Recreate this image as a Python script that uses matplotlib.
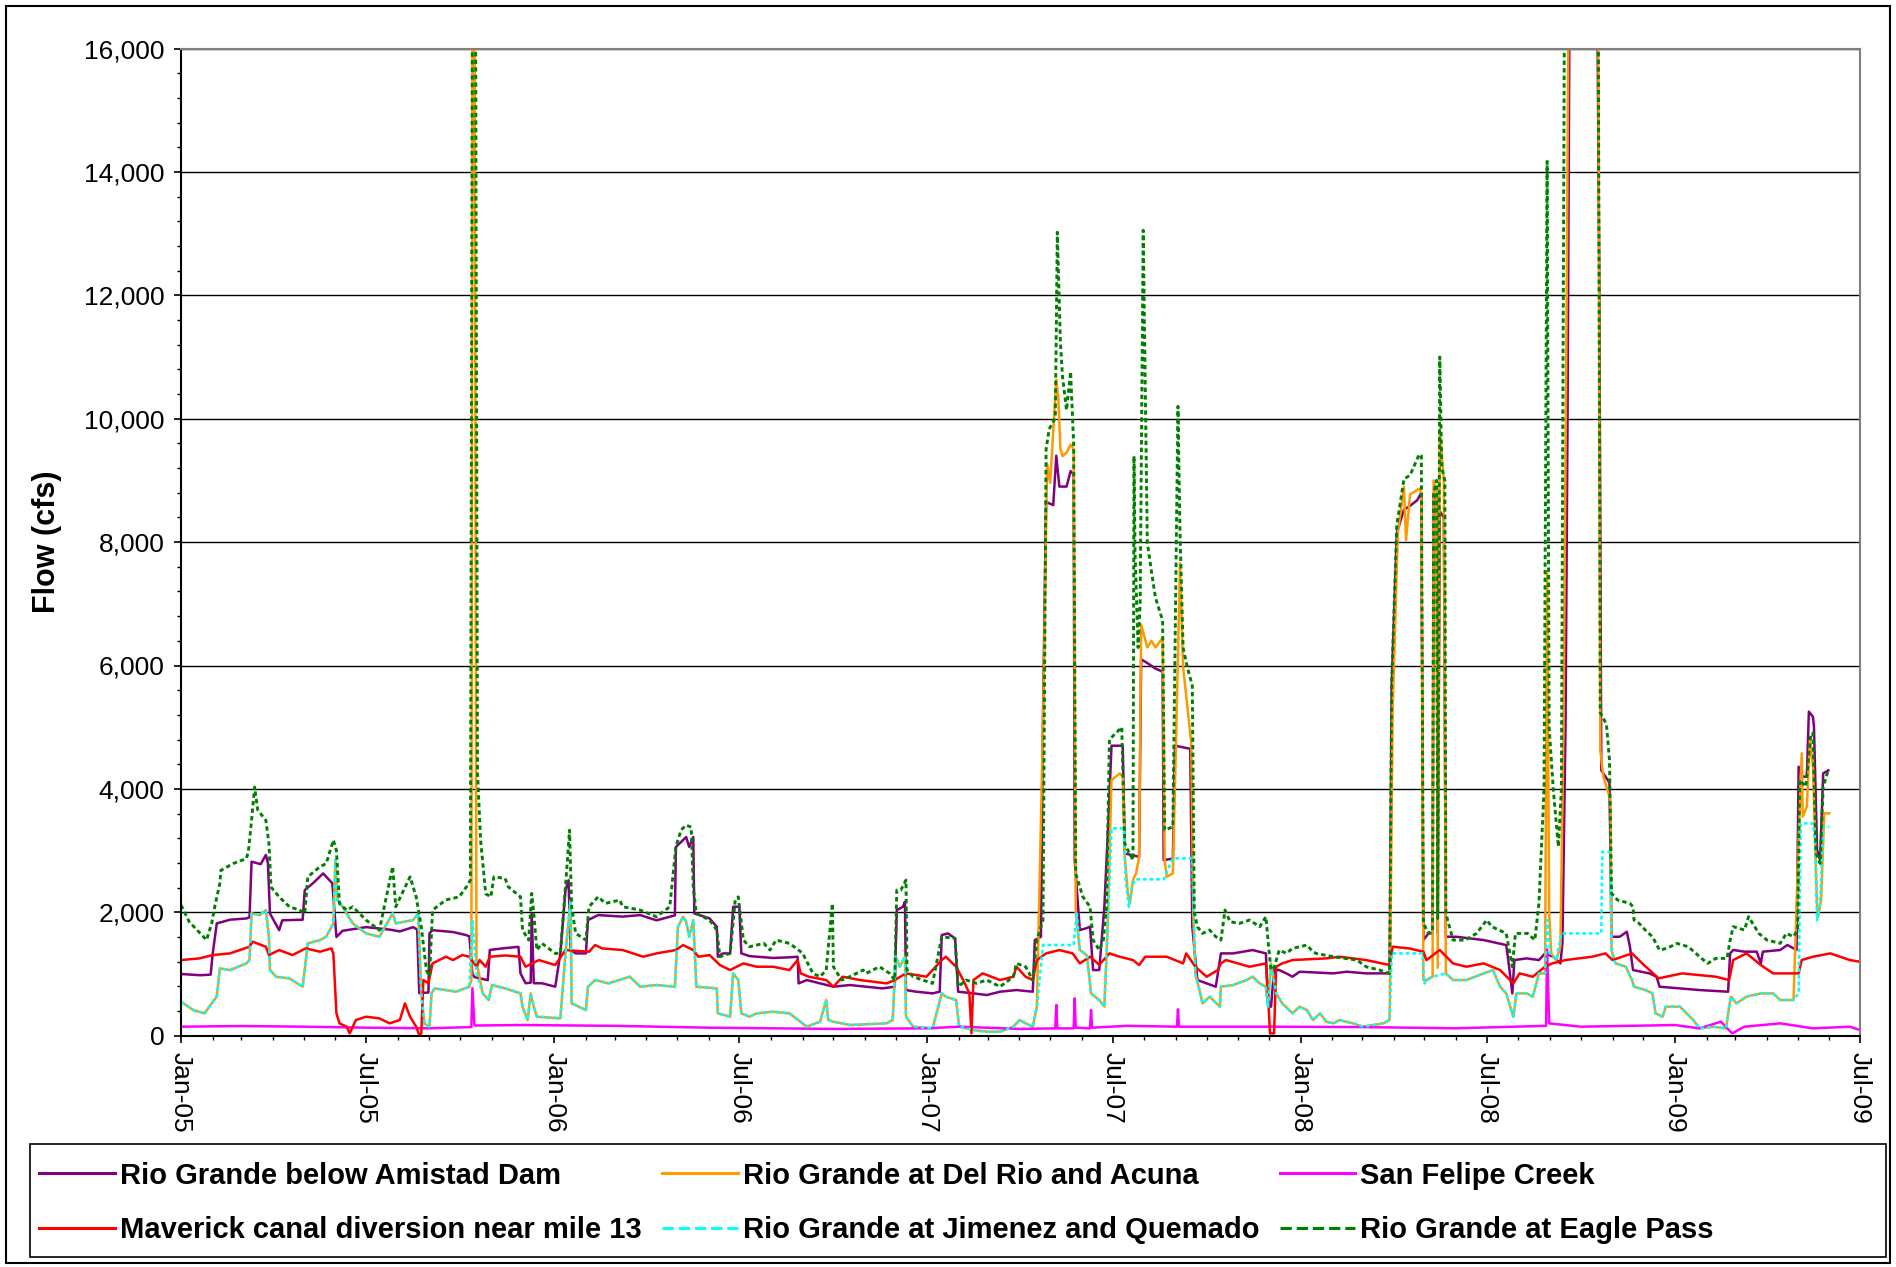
import matplotlib
matplotlib.use("Agg")
import matplotlib.pyplot as plt
import matplotlib.dates as mdates
from matplotlib.ticker import MultipleLocator, FuncFormatter
from matplotlib.patches import Rectangle
from matplotlib.lines import Line2D
import pandas as pd

plt.rcParams['font.family'] = ['Liberation Sans', 'DejaVu Sans']

# daily flow (cfs), (date, value) pairs
amistad = [
    ("2005-01-01", 1000), ("2005-01-20", 980), ("2005-01-30", 990), ("2005-02-01", 1330), ("2005-02-05", 1820),
    ("2005-02-18", 1880), ("2005-03-06", 1900), ("2005-03-09", 1920), ("2005-03-11", 2820), ("2005-03-20", 2780),
    ("2005-03-25", 2930), ("2005-03-27", 2800), ("2005-03-29", 1980), ("2005-04-07", 1710), ("2005-04-10", 1870),
    ("2005-04-30", 1880), ("2005-05-02", 2360), ("2005-05-10", 2470), ("2005-05-20", 2630), ("2005-05-29", 2470),
    ("2005-06-02", 1600), ("2005-06-08", 1700), ("2005-07-01", 1760), ("2005-07-24", 1720), ("2005-08-03", 1690),
    ("2005-08-16", 1760), ("2005-08-20", 1720), ("2005-08-22", 690), ("2005-08-31", 700), ("2005-09-01", 1660),
    ("2005-09-04", 1710), ("2005-09-24", 1680), ("2005-10-07", 1630), ("2005-10-10", 1610), ("2005-10-13", 1000),
    ("2005-10-15", 950), ("2005-10-28", 900), ("2005-10-30", 1390), ("2005-11-14", 1420), ("2005-11-27", 1440),
    ("2005-11-29", 1010), ("2005-12-04", 850), ("2005-12-09", 860), ("2005-12-10", 1980), ("2005-12-12", 850),
    ("2005-12-20", 850), ("2006-01-02", 794), ("2006-01-07", 1334), ("2006-01-12", 2360), ("2006-01-15", 2520),
    ("2006-01-17", 1388), ("2006-01-22", 1334), ("2006-02-01", 1334), ("2006-02-03", 1874), ("2006-02-13", 1955),
    ("2006-03-09", 1930), ("2006-03-26", 1955), ("2006-04-11", 1870), ("2006-04-29", 1950), ("2006-04-30", 3060),
    ("2006-05-07", 3170), ("2006-05-10", 3220), ("2006-05-13", 3060), ("2006-05-17", 3220), ("2006-05-18", 1982),
    ("2006-06-02", 1900), ("2006-06-09", 1765), ("2006-06-10", 1280), ("2006-06-15", 1334), ("2006-06-22", 1334),
    ("2006-06-25", 2090), ("2006-07-01", 2090), ("2006-07-03", 1334), ("2006-07-11", 1290), ("2006-08-03", 1260),
    ("2006-08-19", 1270), ("2006-08-27", 1280), ("2006-08-28", 848), ("2006-09-05", 902), ("2006-09-18", 848),
    ("2006-10-01", 794), ("2006-10-17", 821), ("2006-11-02", 794), ("2006-11-18", 767), ("2006-11-30", 794),
    ("2006-12-02", 2036), ("2006-12-08", 2090), ("2006-12-10", 2170), ("2006-12-11", 740), ("2006-12-21", 713),
    ("2007-01-06", 686), ("2007-01-13", 713), ("2007-01-15", 1631), ("2007-01-21", 1658), ("2007-01-28", 1577),
    ("2007-01-31", 713), ("2007-02-15", 686), ("2007-02-28", 659), ("2007-03-13", 713), ("2007-03-29", 740),
    ("2007-04-14", 713), ("2007-04-16", 1550), ("2007-04-22", 1604), ("2007-04-24", 5200), ("2007-04-27", 8650),
    ("2007-05-04", 8600), ("2007-05-07", 9400), ("2007-05-10", 8900), ("2007-05-17", 8900), ("2007-05-21", 9150),
    ("2007-05-24", 9100), ("2007-05-25", 2846), ("2007-05-30", 1712), ("2007-06-05", 1740), ("2007-06-09", 1766),
    ("2007-06-12", 1064), ("2007-06-18", 1064), ("2007-06-23", 2090), ("2007-06-27", 3500), ("2007-06-30", 4700),
    ("2007-07-11", 4700), ("2007-07-13", 2954), ("2007-07-27", 2900), ("2007-07-29", 6100), ("2007-08-04", 6040),
    ("2007-08-12", 5950), ("2007-08-19", 5900), ("2007-08-20", 2846), ("2007-08-29", 2870), ("2007-08-31", 4700),
    ("2007-09-15", 4650), ("2007-09-17", 1766), ("2007-09-22", 902), ("2007-10-01", 848), ("2007-10-10", 794),
    ("2007-10-15", 1334), ("2007-10-27", 1334), ("2007-11-15", 1388), ("2007-11-28", 1334), ("2007-11-30", 524),
    ("2007-12-03", 470), ("2007-12-06", 1064), ("2007-12-11", 1064), ("2007-12-18", 1010), ("2007-12-24", 956),
    ("2007-12-31", 1037), ("2008-02-02", 1010), ("2008-02-15", 1037), ("2008-03-05", 1010), ("2008-03-28", 1010),
    ("2008-03-30", 5670), ("2008-04-04", 8153), ("2008-04-11", 8525), ("2008-04-17", 8587), ("2008-04-24", 8680),
    ("2008-04-28", 8800), ("2008-04-30", 1550), ("2008-05-05", 1658), ("2008-05-09", 1658), ("2008-05-10", 8773),
    ("2008-05-13", 8700), ("2008-05-14", 1658), ("2008-05-16", 8500), ("2008-05-20", 8400), ("2008-05-22", 1604),
    ("2008-06-01", 1604), ("2008-06-28", 1550), ("2008-07-20", 1469), ("2008-07-22", 1226), ("2008-07-26", 686),
    ("2008-07-28", 1226), ("2008-08-09", 1253), ("2008-08-21", 1226), ("2008-08-27", 1334), ("2008-09-04", 1280),
    ("2008-09-11", 1172), ("2008-09-13", 1500), ("2008-09-16", 5000), ("2008-09-18", 10000), ("2008-09-20", 17000),
    ("2008-10-17", 17000), ("2008-10-19", 12400), ("2008-10-21", 4300), ("2008-10-29", 4100), ("2008-10-31", 1604),
    ("2008-11-08", 1604), ("2008-11-15", 1685), ("2008-11-18", 1442), ("2008-11-21", 1064), ("2008-12-07", 1010),
    ("2008-12-14", 956), ("2008-12-17", 794), ("2009-01-06", 767), ("2009-01-25", 740), ("2009-02-22", 713),
    ("2009-02-24", 1334), ("2009-02-27", 1389), ("2009-03-10", 1362), ("2009-03-22", 1362), ("2009-03-26", 1172),
    ("2009-03-28", 1362), ("2009-04-14", 1389), ("2009-04-21", 1470), ("2009-04-30", 1389), ("2009-05-02", 4360),
    ("2009-05-06", 4198), ("2009-05-10", 4198), ("2009-05-12", 5252), ("2009-05-16", 5170), ("2009-05-17", 5000),
    ("2009-05-20", 3010), ("2009-05-23", 2847), ("2009-05-26", 4252), ("2009-05-31", 4300),
]

del_rio = [
    ("2005-01-01", 551), ("2005-01-13", 416), ("2005-01-24", 362), ("2005-01-31", 524), ("2005-02-05", 632),
    ("2005-02-08", 1091), ("2005-02-18", 1064), ("2005-03-06", 1172), ("2005-03-09", 1226), ("2005-03-11", 1982),
    ("2005-03-19", 1955), ("2005-03-25", 2036), ("2005-03-28", 1604), ("2005-03-29", 1064), ("2005-04-04", 956),
    ("2005-04-17", 929), ("2005-04-30", 794), ("2005-05-05", 1496), ("2005-05-17", 1550), ("2005-05-23", 1604),
    ("2005-05-30", 1820), ("2005-06-01", 2846), ("2005-06-03", 2198), ("2005-06-08", 2090), ("2005-06-18", 1820),
    ("2005-07-01", 1658), ("2005-07-14", 1604), ("2005-07-27", 1982), ("2005-07-30", 1820), ("2005-08-16", 1874),
    ("2005-08-21", 1982), ("2005-08-24", 686), ("2005-08-27", 200), ("2005-09-01", 146), ("2005-09-03", 686),
    ("2005-09-06", 767), ("2005-09-17", 740), ("2005-09-27", 713), ("2005-10-10", 794), ("2005-10-12", 900),
    ("2005-10-13", 17000), ("2005-10-15", 17000), ("2005-10-17", 1200), ("2005-10-23", 686), ("2005-10-29", 578),
    ("2005-11-01", 821), ("2005-11-14", 767), ("2005-11-29", 686), ("2005-12-01", 470), ("2005-12-06", 254),
    ("2005-12-09", 686), ("2005-12-12", 470), ("2005-12-15", 308), ("2006-01-07", 281), ("2006-01-12", 1334),
    ("2006-01-17", 2198), ("2006-01-18", 524), ("2006-01-25", 470), ("2006-02-01", 416), ("2006-02-03", 794),
    ("2006-02-10", 902), ("2006-02-23", 848), ("2006-03-16", 956), ("2006-03-26", 794), ("2006-04-11", 821),
    ("2006-04-29", 794), ("2006-05-02", 1766), ("2006-05-07", 1928), ("2006-05-10", 1850), ("2006-05-13", 1604),
    ("2006-05-17", 1874), ("2006-05-20", 794), ("2006-06-09", 767), ("2006-06-10", 362), ("2006-06-22", 308),
    ("2006-06-25", 1010), ("2006-06-30", 902), ("2006-07-03", 362), ("2006-07-11", 308), ("2006-07-18", 362),
    ("2006-08-03", 389), ("2006-08-19", 362), ("2006-08-28", 250), ("2006-09-05", 146), ("2006-09-18", 227),
    ("2006-09-24", 578), ("2006-09-26", 254), ("2006-10-01", 227), ("2006-10-17", 173), ("2006-11-22", 200),
    ("2006-11-28", 254), ("2006-12-01", 1280), ("2006-12-05", 1118), ("2006-12-10", 1280), ("2006-12-11", 308),
    ("2006-12-18", 146), ("2007-01-06", 119), ("2007-01-15", 686), ("2007-01-19", 632), ("2007-01-29", 578),
    ("2007-02-01", 146), ("2007-02-15", 92), ("2007-02-28", 65), ("2007-03-13", 65), ("2007-03-26", 146),
    ("2007-04-01", 254), ("2007-04-07", 200), ("2007-04-14", 146), ("2007-04-18", 470), ("2007-04-24", 5000),
    ("2007-04-28", 9270), ("2007-05-01", 8960), ("2007-05-07", 10634), ("2007-05-09", 10324), ("2007-05-11", 9518),
    ("2007-05-13", 9394), ("2007-05-17", 9450), ("2007-05-21", 9580), ("2007-05-24", 9500), ("2007-05-26", 2000),
    ("2007-05-30", 1388), ("2007-06-06", 1300), ("2007-06-10", 686), ("2007-06-18", 578), ("2007-06-23", 470),
    ("2007-06-26", 1658), ("2007-06-30", 4142), ("2007-07-08", 4250), ("2007-07-11", 4200), ("2007-07-13", 2900),
    ("2007-07-16", 2306), ("2007-07-18", 2144), ("2007-07-21", 2522), ("2007-07-24", 2630), ("2007-07-27", 2900),
    ("2007-07-29", 6664), ("2007-08-04", 6292), ("2007-08-08", 6400), ("2007-08-12", 6292), ("2007-08-19", 6447),
    ("2007-08-21", 2846), ("2007-08-23", 2576), ("2007-08-29", 2630), ("2007-09-01", 4700), ("2007-09-05", 7657),
    ("2007-09-08", 5982), ("2007-09-12", 5361), ("2007-09-16", 4740), ("2007-09-18", 1982), ("2007-09-20", 1000),
    ("2007-09-24", 740), ("2007-09-27", 524), ("2007-10-04", 632), ("2007-10-14", 470), ("2007-10-15", 794),
    ("2007-10-27", 821), ("2007-11-09", 902), ("2007-11-15", 956), ("2007-11-22", 848), ("2007-11-28", 794),
    ("2007-11-30", 470), ("2007-12-03", 1172), ("2007-12-08", 686), ("2007-12-14", 524), ("2007-12-24", 362),
    ("2007-12-31", 470), ("2008-01-07", 416), ("2008-01-13", 254), ("2008-01-20", 362), ("2008-01-26", 227),
    ("2008-02-02", 200), ("2008-02-08", 254), ("2008-02-21", 200), ("2008-03-02", 146), ("2008-03-22", 200),
    ("2008-03-28", 254), ("2008-03-31", 5300), ("2008-04-05", 8153), ("2008-04-11", 8897), ("2008-04-13", 8029),
    ("2008-04-17", 8773), ("2008-04-26", 8866), ("2008-04-28", 8800), ("2008-04-30", 900), ("2008-05-03", 902),
    ("2008-05-09", 956), ("2008-05-10", 9000), ("2008-05-13", 8800), ("2008-05-14", 1100), ("2008-05-16", 9828),
    ("2008-05-20", 9000), ("2008-05-22", 1010), ("2008-05-29", 902), ("2008-06-11", 902), ("2008-06-28", 1010),
    ("2008-07-07", 1064), ("2008-07-14", 794), ("2008-07-20", 686), ("2008-07-24", 470), ("2008-07-27", 308),
    ("2008-07-30", 686), ("2008-08-09", 686), ("2008-08-15", 632), ("2008-08-21", 1010), ("2008-08-27", 1010),
    ("2008-08-29", 7533), ("2008-08-31", 2000), ("2008-09-02", 1334), ("2008-09-07", 1226), ("2008-09-11", 1442),
    ("2008-09-14", 5000), ("2008-09-17", 11565), ("2008-09-19", 17000), ("2008-10-18", 17000), ("2008-10-20", 4630),
    ("2008-10-23", 4200), ("2008-10-30", 3820), ("2008-10-31", 1390), ("2008-11-04", 1172), ("2008-11-14", 1118),
    ("2008-11-20", 902), ("2008-11-22", 794), ("2008-12-03", 740), ("2008-12-10", 686), ("2008-12-13", 362),
    ("2008-12-20", 308), ("2008-12-23", 470), ("2009-01-06", 470), ("2009-01-19", 254), ("2009-01-25", 119),
    ("2009-02-07", 146), ("2009-02-20", 119), ("2009-02-23", 470), ("2009-02-25", 632), ("2009-03-02", 524),
    ("2009-03-12", 632), ("2009-03-26", 686), ("2009-04-07", 686), ("2009-04-14", 578), ("2009-04-27", 578),
    ("2009-05-02", 3171), ("2009-05-05", 4576), ("2009-05-06", 3550), ("2009-05-10", 3712), ("2009-05-13", 4792),
    ("2009-05-16", 4360), ("2009-05-20", 2091), ("2009-05-21", 1929), ("2009-05-24", 2199), ("2009-05-27", 3604),
    ("2009-06-01", 3604),
]

san_felipe = [
    ("2005-01-01", 146), ("2005-03-01", 157), ("2005-05-01", 146), ("2005-07-01", 130), ("2005-09-01", 120),
    ("2005-10-12", 140), ("2005-10-13", 770), ("2005-10-15", 165), ("2005-12-01", 173), ("2006-03-01", 160),
    ("2006-06-01", 130), ("2006-08-01", 120), ("2006-10-01", 110), ("2007-01-01", 120), ("2007-02-01", 146),
    ("2007-04-01", 110), ("2007-05-06", 119), ("2007-05-07", 497), ("2007-05-08", 119), ("2007-05-24", 119),
    ("2007-05-25", 605), ("2007-05-26", 130), ("2007-06-09", 119), ("2007-06-10", 416), ("2007-06-11", 130),
    ("2007-07-15", 160), ("2007-09-02", 146), ("2007-09-03", 427), ("2007-09-04", 146), ("2007-12-01", 146),
    ("2008-03-01", 140), ("2008-06-01", 120), ("2008-08-28", 160), ("2008-08-29", 1400), ("2008-08-31", 200),
    ("2008-10-01", 146), ("2009-01-01", 173), ("2009-01-25", 119), ("2009-02-15", 227), ("2009-02-26", 38),
    ("2009-03-10", 146), ("2009-04-14", 200), ("2009-05-16", 119), ("2009-06-21", 146), ("2009-07-01", 92),
]

maverick = [
    ("2005-01-01", 1226), ("2005-01-19", 1253), ("2005-02-01", 1307), ("2005-02-18", 1334), ("2005-03-09", 1442),
    ("2005-03-12", 1523), ("2005-03-25", 1442), ("2005-03-28", 1307), ("2005-04-07", 1388), ("2005-04-20", 1307),
    ("2005-05-03", 1415), ("2005-05-17", 1361), ("2005-05-28", 1415), ("2005-05-30", 1334), ("2005-06-02", 362),
    ("2005-06-05", 200), ("2005-06-12", 146), ("2005-06-15", 38), ("2005-06-21", 254), ("2005-07-01", 308),
    ("2005-07-14", 281), ("2005-07-24", 200), ("2005-08-03", 254), ("2005-08-08", 524), ("2005-08-13", 308),
    ("2005-08-19", 146), ("2005-08-22", 11), ("2005-08-24", 38), ("2005-08-26", 902), ("2005-08-31", 850),
    ("2005-09-04", 1172), ("2005-09-17", 1280), ("2005-09-24", 1226), ("2005-10-03", 1307), ("2005-10-10", 1280),
    ("2005-10-17", 1118), ("2005-10-20", 1226), ("2005-10-26", 1118), ("2005-10-30", 1280), ("2005-11-14", 1300),
    ("2005-11-29", 1280), ("2005-12-04", 1118), ("2005-12-17", 1226), ("2006-01-02", 1145), ("2006-01-12", 1388),
    ("2006-02-04", 1361), ("2006-02-10", 1469), ("2006-02-17", 1415), ("2006-03-09", 1388), ("2006-03-29", 1280),
    ("2006-04-11", 1334), ("2006-04-30", 1388), ("2006-05-07", 1469), ("2006-05-17", 1388), ("2006-05-22", 1280),
    ("2006-06-02", 1307), ("2006-06-12", 1145), ("2006-06-22", 1064), ("2006-07-05", 1172), ("2006-07-18", 1118),
    ("2006-08-03", 1118), ("2006-08-19", 1064), ("2006-08-27", 1226), ("2006-08-30", 1010), ("2006-09-07", 956),
    ("2006-09-24", 902), ("2006-10-01", 794), ("2006-10-10", 956), ("2006-10-27", 902), ("2006-11-22", 848),
    ("2006-11-30", 902), ("2006-12-11", 1010), ("2006-12-31", 956), ("2007-01-15", 1226), ("2007-01-19", 1280),
    ("2007-01-29", 1118), ("2007-02-05", 902), ("2007-02-11", 686), ("2007-02-13", 38), ("2007-02-15", 902),
    ("2007-02-24", 1010), ("2007-03-13", 902), ("2007-03-26", 956), ("2007-03-29", 1118), ("2007-04-07", 956),
    ("2007-04-14", 902), ("2007-04-18", 1226), ("2007-04-27", 1334), ("2007-05-10", 1388), ("2007-05-23", 1334),
    ("2007-05-30", 1172), ("2007-06-09", 1280), ("2007-06-18", 1150), ("2007-06-28", 1334), ("2007-07-08", 1280),
    ("2007-07-21", 1226), ("2007-07-27", 1145), ("2007-08-02", 1280), ("2007-08-23", 1280), ("2007-09-08", 1172),
    ("2007-09-11", 1334), ("2007-09-20", 1118), ("2007-10-01", 956), ("2007-10-12", 1064), ("2007-10-15", 1172),
    ("2007-10-20", 1226), ("2007-11-12", 1118), ("2007-11-28", 1172), ("2007-11-30", 686), ("2007-12-02", 38),
    ("2007-12-06", 38), ("2007-12-08", 1118), ("2007-12-14", 1172), ("2007-12-24", 1226), ("2008-01-26", 1253),
    ("2008-02-08", 1280), ("2008-03-05", 1226), ("2008-03-28", 1145), ("2008-03-31", 1442), ("2008-04-16", 1415),
    ("2008-04-30", 1361), ("2008-05-03", 1226), ("2008-05-16", 1388), ("2008-05-29", 1172), ("2008-06-11", 1118),
    ("2008-06-28", 1172), ("2008-07-14", 1064), ("2008-07-27", 848), ("2008-08-02", 1010), ("2008-08-15", 956),
    ("2008-08-27", 1118), ("2008-09-03", 1172), ("2008-09-16", 1226), ("2008-10-12", 1280), ("2008-10-25", 1334),
    ("2008-11-01", 1226), ("2008-11-20", 1334), ("2008-11-30", 1172), ("2008-12-16", 929), ("2009-01-08", 1010),
    ("2009-02-10", 956), ("2009-02-23", 902), ("2009-02-27", 1226), ("2009-03-12", 1334), ("2009-03-26", 1145),
    ("2009-04-07", 1010), ("2009-05-02", 1010), ("2009-05-05", 1226), ("2009-05-16", 1280), ("2009-06-02", 1334),
    ("2009-06-21", 1226), ("2009-07-01", 1199),
]

jimenez = [
    ("2005-01-01", 551), ("2005-01-13", 416), ("2005-01-24", 362), ("2005-01-31", 524), ("2005-02-05", 632),
    ("2005-02-08", 1091), ("2005-02-18", 1064), ("2005-03-06", 1172), ("2005-03-09", 1226), ("2005-03-11", 1982),
    ("2005-03-19", 1955), ("2005-03-25", 2036), ("2005-03-28", 1604), ("2005-03-29", 1064), ("2005-04-04", 956),
    ("2005-04-17", 929), ("2005-04-30", 794), ("2005-05-05", 1496), ("2005-05-17", 1550), ("2005-05-23", 1604),
    ("2005-05-30", 1820), ("2005-06-01", 2846), ("2005-06-03", 2198), ("2005-06-08", 2090), ("2005-06-18", 1820),
    ("2005-07-01", 1658), ("2005-07-14", 1604), ("2005-07-27", 1982), ("2005-07-30", 1820), ("2005-08-16", 1874),
    ("2005-08-21", 1982), ("2005-08-24", 686), ("2005-08-27", 200), ("2005-09-01", 146), ("2005-09-03", 686),
    ("2005-09-06", 767), ("2005-09-17", 740), ("2005-09-27", 713), ("2005-10-10", 794), ("2005-10-13", 1874),
    ("2005-10-17", 1010), ("2005-10-23", 686), ("2005-10-29", 578), ("2005-11-01", 821), ("2005-11-14", 767),
    ("2005-11-29", 686), ("2005-12-01", 470), ("2005-12-06", 254), ("2005-12-09", 686), ("2005-12-12", 470),
    ("2005-12-15", 308), ("2006-01-07", 281), ("2006-01-12", 1334), ("2006-01-17", 2198), ("2006-01-18", 524),
    ("2006-01-25", 470), ("2006-02-01", 416), ("2006-02-03", 794), ("2006-02-10", 902), ("2006-02-23", 848),
    ("2006-03-16", 956), ("2006-03-26", 794), ("2006-04-11", 821), ("2006-04-29", 794), ("2006-05-02", 1766),
    ("2006-05-07", 1928), ("2006-05-10", 1850), ("2006-05-13", 1604), ("2006-05-17", 1874), ("2006-05-20", 794),
    ("2006-06-09", 767), ("2006-06-10", 362), ("2006-06-22", 308), ("2006-06-25", 1010), ("2006-06-30", 902),
    ("2006-07-03", 362), ("2006-07-11", 308), ("2006-07-18", 362), ("2006-08-03", 389), ("2006-08-19", 362),
    ("2006-08-28", 250), ("2006-09-05", 146), ("2006-09-18", 227), ("2006-09-24", 578), ("2006-09-26", 254),
    ("2006-10-01", 227), ("2006-10-17", 173), ("2006-11-22", 200), ("2006-11-28", 254), ("2006-12-01", 1280),
    ("2006-12-05", 1118), ("2006-12-10", 1280), ("2006-12-11", 308), ("2006-12-18", 146), ("2007-01-06", 119),
    ("2007-01-15", 686), ("2007-01-19", 632), ("2007-01-29", 578), ("2007-02-01", 146), ("2007-02-15", 92),
    ("2007-02-28", 65), ("2007-03-13", 65), ("2007-03-26", 146), ("2007-04-01", 254), ("2007-04-07", 200),
    ("2007-04-14", 146), ("2007-04-18", 470), ("2007-04-24", 1470), ("2007-05-24", 1470), ("2007-05-27", 2000),
    ("2007-05-30", 1388), ("2007-06-06", 1300), ("2007-06-10", 686), ("2007-06-18", 578), ("2007-06-23", 470),
    ("2007-06-26", 1658), ("2007-06-30", 3360), ("2007-07-12", 3360), ("2007-07-14", 2500), ("2007-07-17", 2090),
    ("2007-07-20", 2400), ("2007-07-23", 2535), ("2007-08-20", 2535), ("2007-08-29", 2875), ("2007-09-17", 2875),
    ("2007-09-20", 1000), ("2007-09-24", 740), ("2007-09-27", 524), ("2007-10-04", 632), ("2007-10-14", 470),
    ("2007-10-15", 794), ("2007-10-27", 821), ("2007-11-09", 902), ("2007-11-15", 956), ("2007-11-22", 848),
    ("2007-11-28", 794), ("2007-11-30", 470), ("2007-12-03", 1172), ("2007-12-08", 686), ("2007-12-14", 524),
    ("2007-12-24", 362), ("2007-12-31", 470), ("2008-01-07", 416), ("2008-01-13", 254), ("2008-01-20", 362),
    ("2008-01-26", 227), ("2008-02-02", 200), ("2008-02-08", 254), ("2008-02-21", 200), ("2008-03-02", 146),
    ("2008-03-22", 200), ("2008-03-28", 254), ("2008-03-30", 1334), ("2008-04-29", 1334), ("2008-05-01", 848),
    ("2008-05-03", 902), ("2008-05-09", 956), ("2008-05-22", 1010), ("2008-05-29", 902), ("2008-06-11", 902),
    ("2008-06-28", 1010), ("2008-07-07", 1064), ("2008-07-14", 794), ("2008-07-20", 686), ("2008-07-24", 470),
    ("2008-07-27", 308), ("2008-07-30", 686), ("2008-08-09", 686), ("2008-08-15", 632), ("2008-08-21", 1010),
    ("2008-08-27", 1010), ("2008-08-29", 1874), ("2008-09-01", 1334), ("2008-09-07", 1226), ("2008-09-12", 1658),
    ("2008-10-21", 1658), ("2008-10-22", 2980), ("2008-10-30", 2980), ("2008-10-31", 1334), ("2008-11-04", 1172),
    ("2008-11-14", 1118), ("2008-11-20", 902), ("2008-11-22", 794), ("2008-12-03", 740), ("2008-12-10", 686),
    ("2008-12-13", 362), ("2008-12-20", 308), ("2008-12-23", 470), ("2009-01-06", 470), ("2009-01-19", 254),
    ("2009-01-25", 119), ("2009-02-07", 146), ("2009-02-20", 119), ("2009-02-23", 470), ("2009-02-25", 632),
    ("2009-03-02", 524), ("2009-03-12", 632), ("2009-03-26", 686), ("2009-04-07", 686), ("2009-04-14", 578),
    ("2009-04-27", 578), ("2009-05-02", 686), ("2009-05-04", 3442), ("2009-05-16", 3442), ("2009-05-18", 3171),
    ("2009-05-20", 1875), ("2009-05-23", 2145), ("2009-05-26", 3388), ("2009-06-01", 3388),
]

eagle_pass = [
    ("2005-01-01", 2117), ("2005-01-09", 1847), ("2005-01-26", 1550), ("2005-01-31", 1820), ("2005-02-03", 2090),
    ("2005-02-08", 2470), ("2005-02-09", 2680), ("2005-02-21", 2790), ("2005-03-06", 2870), ("2005-03-08", 3000),
    ("2005-03-11", 3490), ("2005-03-14", 4030), ("2005-03-17", 3660), ("2005-03-25", 3490), ("2005-03-28", 3115),
    ("2005-03-30", 2410), ("2005-04-07", 2250), ("2005-04-17", 2090), ("2005-04-27", 2035), ("2005-05-02", 1980),
    ("2005-05-05", 2575), ("2005-05-17", 2740), ("2005-05-23", 2790), ("2005-05-30", 3170), ("2005-06-02", 3000),
    ("2005-06-05", 2140), ("2005-06-12", 2035), ("2005-06-18", 2090), ("2005-07-01", 1874), ("2005-07-14", 1710),
    ("2005-07-27", 2740), ("2005-07-30", 2090), ("2005-08-13", 2575), ("2005-08-19", 2250), ("2005-08-24", 1765),
    ("2005-08-29", 1064), ("2005-09-01", 956), ("2005-09-04", 2035), ("2005-09-17", 2200), ("2005-09-30", 2250),
    ("2005-10-07", 2410), ("2005-10-11", 2520), ("2005-10-13", 17000), ("2005-10-16", 17000), ("2005-10-18", 4250),
    ("2005-10-21", 3170), ("2005-10-26", 2300), ("2005-10-31", 2250), ("2005-11-03", 2575), ("2005-11-14", 2550),
    ("2005-11-17", 2414), ("2005-11-29", 2250), ("2005-12-01", 1712), ("2005-12-07", 1550), ("2005-12-10", 2306),
    ("2005-12-12", 1982), ("2005-12-15", 1388), ("2005-12-20", 1496), ("2006-01-02", 1334), ("2006-01-07", 1334),
    ("2006-01-12", 2414), ("2006-01-16", 3332), ("2006-01-18", 2090), ("2006-01-22", 1658), ("2006-02-01", 1550),
    ("2006-02-04", 2090), ("2006-02-13", 2252), ("2006-02-20", 2144), ("2006-03-06", 2198), ("2006-03-09", 2090),
    ("2006-03-26", 2036), ("2006-04-11", 1928), ("2006-04-24", 2090), ("2006-04-30", 3062), ("2006-05-05", 3332),
    ("2006-05-10", 3413), ("2006-05-15", 3380), ("2006-05-17", 2400), ("2006-05-20", 1982), ("2006-06-02", 1874),
    ("2006-06-09", 1712), ("2006-06-12", 1280), ("2006-06-22", 1334), ("2006-06-27", 2198), ("2006-06-30", 2250),
    ("2006-07-05", 1550), ("2006-07-11", 1442), ("2006-07-25", 1496), ("2006-07-31", 1388), ("2006-08-06", 1550),
    ("2006-08-19", 1496), ("2006-08-28", 1388), ("2006-09-01", 1334), ("2006-09-11", 1010), ("2006-09-18", 956),
    ("2006-09-24", 1064), ("2006-09-30", 2144), ("2006-10-01", 1118), ("2006-10-09", 902), ("2006-10-17", 956),
    ("2006-10-30", 1064), ("2006-11-02", 1010), ("2006-11-15", 1118), ("2006-11-25", 1010), ("2006-11-30", 902),
    ("2006-12-02", 2360), ("2006-12-06", 2360), ("2006-12-11", 2522), ("2006-12-12", 1064), ("2006-12-18", 956),
    ("2007-01-06", 848), ("2007-01-15", 1604), ("2007-01-28", 1577), ("2007-01-31", 794), ("2007-02-08", 902),
    ("2007-02-18", 848), ("2007-02-28", 902), ("2007-03-13", 794), ("2007-03-26", 956), ("2007-03-29", 1172),
    ("2007-04-07", 1118), ("2007-04-14", 902), ("2007-04-18", 1550), ("2007-04-24", 1874), ("2007-04-27", 9500),
    ("2007-04-30", 9830), ("2007-05-06", 10014), ("2007-05-07", 11440), ("2007-05-08", 13023), ("2007-05-11", 11255),
    ("2007-05-13", 10697), ("2007-05-17", 10138), ("2007-05-21", 10760), ("2007-05-24", 9580), ("2007-05-26", 2630),
    ("2007-06-02", 2250), ("2007-06-09", 2090), ("2007-06-12", 1550), ("2007-06-18", 1388), ("2007-06-22", 1550),
    ("2007-06-25", 2090), ("2007-06-28", 4800), ("2007-07-10", 5000), ("2007-07-13", 3115), ("2007-07-16", 3008),
    ("2007-07-21", 2846), ("2007-07-22", 9394), ("2007-07-23", 7843), ("2007-07-26", 6292), ("2007-07-28", 7000),
    ("2007-07-31", 13054), ("2007-08-04", 8000), ("2007-08-08", 7532), ("2007-08-12", 7098), ("2007-08-19", 6726),
    ("2007-08-21", 3332), ("2007-08-29", 3386), ("2007-09-03", 10200), ("2007-09-05", 8153), ("2007-09-08", 6292),
    ("2007-09-12", 5982), ("2007-09-17", 5671), ("2007-09-19", 2000), ("2007-09-22", 1766), ("2007-09-27", 1658),
    ("2007-10-04", 1712), ("2007-10-10", 1604), ("2007-10-15", 1550), ("2007-10-19", 2036), ("2007-10-24", 1847),
    ("2007-11-02", 1820), ("2007-11-12", 1874), ("2007-11-22", 1766), ("2007-11-28", 1928), ("2007-11-30", 1550),
    ("2007-12-03", 1064), ("2007-12-06", 1100), ("2007-12-11", 1388), ("2007-12-18", 1334), ("2007-12-24", 1415),
    ("2007-12-31", 1442), ("2008-01-07", 1469), ("2008-01-13", 1361), ("2008-01-16", 1334), ("2008-02-02", 1280),
    ("2008-02-25", 1226), ("2008-03-05", 1118), ("2008-03-18", 1064), ("2008-03-28", 1010), ("2008-03-30", 5733),
    ("2008-04-04", 8277), ("2008-04-11", 9022), ("2008-04-17", 9084), ("2008-04-26", 9425), ("2008-04-28", 9400),
    ("2008-04-30", 1820), ("2008-05-05", 1658), ("2008-05-09", 1700), ("2008-05-10", 8800), ("2008-05-13", 9000),
    ("2008-05-14", 1900), ("2008-05-16", 11000), ("2008-05-18", 9200), ("2008-05-21", 9000), ("2008-05-22", 1982),
    ("2008-05-29", 1550), ("2008-06-10", 1550), ("2008-06-21", 1658), ("2008-07-01", 1874), ("2008-07-06", 1766),
    ("2008-07-20", 1658), ("2008-07-26", 1118), ("2008-07-29", 1658), ("2008-08-10", 1658), ("2008-08-17", 1550),
    ("2008-08-21", 2144), ("2008-08-26", 4000), ("2008-08-29", 14170), ("2008-08-31", 5000), ("2008-09-04", 4000),
    ("2008-09-09", 3062), ("2008-09-12", 4000), ("2008-09-15", 17000), ("2008-10-18", 17000), ("2008-10-20", 5237),
    ("2008-10-26", 5050), ("2008-10-29", 4470), ("2008-10-31", 2306), ("2008-11-06", 2198), ("2008-11-18", 2144),
    ("2008-11-21", 2090), ("2008-11-22", 1874), ("2008-11-27", 1820), ("2008-12-03", 1712), ("2008-12-10", 1604),
    ("2008-12-17", 1388), ("2008-12-24", 1415), ("2009-01-03", 1496), ("2009-01-14", 1442), ("2009-01-29", 1226),
    ("2009-02-02", 1172), ("2009-02-10", 1253), ("2009-02-21", 1253), ("2009-02-24", 1550), ("2009-02-27", 1767),
    ("2009-03-10", 1713), ("2009-03-14", 1929), ("2009-03-24", 1659), ("2009-04-01", 1550), ("2009-04-14", 1497),
    ("2009-04-20", 1659), ("2009-04-27", 1605), ("2009-05-01", 1713), ("2009-05-03", 4144), ("2009-05-06", 4090),
    ("2009-05-09", 4036), ("2009-05-14", 4900), ("2009-05-16", 4900), ("2009-05-19", 2955), ("2009-05-23", 2793),
    ("2009-05-26", 4036), ("2009-05-31", 4306),
]

series = [
    ("Rio Grande below Amistad Dam", amistad, "#800080", "-", 1.8),
    ("Rio Grande at Del Rio and Acuna", del_rio, "#FF9900", "-", 1.8),
    ("San Felipe Creek", san_felipe, "#FF00FF", "-", 1.8),
    ("Maverick canal diversion near mile 13", maverick, "#FF0000", "-", 1.8),
    ("Rio Grande at Jimenez and Quemado", jimenez, "#00FFFF", (0, (1.4, 1.1)), 1.9),
    ("Rio Grande at Eagle Pass", eagle_pass, "#008000", (0, (1.5, 1.1)), 2.1),
]

fig = plt.figure(figsize=(18.96, 12.67), dpi=100)
ax = fig.add_axes([181 / 1896, 1 - 1035.7 / 1267, 1679 / 1896, 987.2 / 1267])

handles = {}
for label, pts, color, ls, lw in series:
    dates = pd.to_datetime([p[0] for p in pts])
    vals = [p[1] for p in pts]
    line, = ax.plot(dates, vals, color=color, lw=lw, ls=ls, label=label)
    handles[label] = line

ax.set_xlim(pd.Timestamp("2005-01-01"), pd.Timestamp("2009-07-01"))
ax.set_ylim(0, 16000)

ax.xaxis.set_major_locator(mdates.MonthLocator(bymonth=[1, 7]))
ax.xaxis.set_minor_locator(mdates.MonthLocator())
ax.xaxis.set_major_formatter(mdates.DateFormatter("%b-%y"))
ax.yaxis.set_major_locator(MultipleLocator(2000))
ax.yaxis.set_minor_locator(MultipleLocator(400))
ax.yaxis.set_major_formatter(FuncFormatter(lambda v, p: f"{v:,.0f}"))

ax.tick_params(axis="both", which="major", direction="out", length=5, width=1.2, labelsize=19, pad=7)
ax.tick_params(axis="both", which="minor", direction="out", length=3, width=1.0)
for lab in ax.get_xticklabels():
    lab.set_rotation(270)
    lab.set_ha("center")
    lab.set_va("top")

ax.grid(axis="y", which="major", color="black", lw=1.0)
ax.set_axisbelow(True)
for s in ["left", "bottom"]:
    ax.spines[s].set_color("black")
    ax.spines[s].set_linewidth(1.5)
for s in ["top", "right"]:
    ax.spines[s].set_color("#808080")
    ax.spines[s].set_linewidth(1.5)

fig.text(47 / 1896, 1 - 542 / 1267, "Flow (cfs)", rotation=90, ha="center", va="center",
         fontsize=22, fontweight="bold")

# legend: filled column by column, so this order gives the reference's row layout
order = ["Rio Grande below Amistad Dam", "Maverick canal diversion near mile 13",
         "Rio Grande at Del Rio and Acuna", "Rio Grande at Jimenez and Quemado",
         "San Felipe Creek", "Rio Grande at Eagle Pass"]
leg_handles = []
for name in order:
    h = handles[name]
    leg_handles.append(Line2D([], [], color=h.get_color(), lw=2.2, ls=h.get_linestyle()))
fig.legend(leg_handles, order, ncol=3, loc="center left", bbox_to_anchor=(39 / 1896, 1 - 1203 / 1267),
           frameon=False, borderpad=0, borderaxespad=0, handlelength=2.6, handletextpad=0.17,
           columnspacing=0.7, labelspacing=0.92, prop={"size": 21, "weight": "bold"})

fig.add_artist(Rectangle((30 / 1896, 1 - 1257 / 1267), 1856 / 1896, 113 / 1267, transform=fig.transFigure,
                         fill=False, ec="black", lw=1.2))
fig.add_artist(Rectangle((6 / 1896, 4 / 1267), 1884 / 1896, 1257 / 1267, transform=fig.transFigure,
                         fill=False, ec="black", lw=1.5))

fig.savefig("out.png", dpi=100)
